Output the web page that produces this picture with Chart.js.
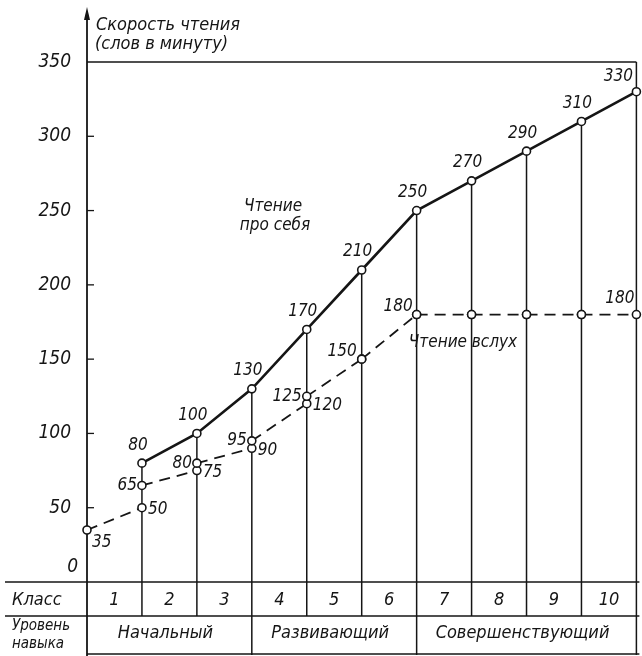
<!DOCTYPE html>
<html>
<head>
<meta charset="utf-8">
<script src="https://cdn.jsdelivr.net/npm/chart.js@4.4.1/dist/chart.umd.min.js"></script>
<style>
  html, body { margin: 0; padding: 0; background: #fff; }
  canvas { display: block; }
</style>
</head>
<body>
<canvas id="chart" width="642" height="656"></canvas>
<script>
(() => {
  // grade boundaries are x = 0..10, grade i spans x = i-1 .. i
  const grades = ['1', '2', '3', '4', '5', '6', '7', '8', '9', '10'];
  const silentValues = [80, 100, 130, 170, 210, 250, 270, 290, 310, 330]; // at end of each grade
  const aloudStart = [35, 65, 80, 95, 125, 150, 180, 180, 180, 180];     // at start of each grade
  const aloudEnd = [50, 75, 90, 120, 150, 180, 180, 180, 180, 180];       // at end of each grade
  const levels = ['Начальный', 'Развивающий', 'Совершенствующий'];
  const levelBounds = [0, 3, 6, 10];
  const yTitle = ['Скорость чтения', '(слов в минуту)'];
  const silentName = ['Чтение', 'про себя'];
  const aloudName = 'Чтение вслух';

  const INK = '#151515';
  const FAMILY = "'Liberation Sans Narrow', 'DejaVu Sans Condensed', sans-serif";
  const font = (size) => `italic ${size}px ${FAMILY}`;

  const silentData = silentValues.map((v, i) => ({ x: i + 1, y: v }));
  const aloudData = [];
  aloudStart.forEach((v, i) => {
    aloudData.push({ x: i, y: v }, { x: i + 1, y: aloudEnd[i] }, { x: i + 1, y: null });
  });

  const pointStyle = {
    pointRadius: 4,
    pointBackgroundColor: '#fff',
    pointBorderColor: INK,
    pointBorderWidth: 1.6,
    pointHoverRadius: 4,
    borderColor: INK,
    tension: 0,
    clip: false,
  };

  const overlay = {
    id: 'overlay',
    beforeDatasetsDraw(chart) {
      const { ctx, scales: { x, y } } = chart;
      const y0 = y.getPixelForValue(0);
      const rowB = y0 + 34;
      const bottom = 655;
      ctx.save();
      ctx.strokeStyle = INK;
      ctx.lineCap = 'butt';

      // grade verticals, from the silent-reading point down through the class row
      ctx.lineWidth = 1.5;
      silentValues.forEach((v, i) => {
        const px = x.getPixelForValue(i + 1);
        const long = levelBounds.includes(i + 1);
        ctx.beginPath();
        ctx.moveTo(px, i === 9 ? y.getPixelForValue(350) : y.getPixelForValue(v));
        ctx.lineTo(px, long ? bottom : rowB);
        ctx.stroke();
      });

      // y axis with arrow
      const ax = x.getPixelForValue(0);
      ctx.lineWidth = 1.8;
      ctx.beginPath();
      ctx.moveTo(ax, 14);
      ctx.lineTo(ax, bottom + 2);
      ctx.stroke();
      ctx.fillStyle = INK;
      ctx.beginPath();
      ctx.moveTo(ax, 7);
      ctx.lineTo(ax - 3, 20);
      ctx.lineTo(ax + 3, 20);
      ctx.closePath();
      ctx.fill();

      // top frame at 350
      ctx.lineWidth = 1.6;
      ctx.beginPath();
      ctx.moveTo(ax, y.getPixelForValue(350));
      ctx.lineTo(x.getPixelForValue(10), y.getPixelForValue(350));
      ctx.stroke();

      // small inner ticks
      ctx.lineWidth = 1.3;
      y.ticks.forEach((t) => {
        if (t.value === 0 || t.value === 350) return;
        const py = y.getPixelForValue(t.value);
        ctx.beginPath();
        ctx.moveTo(ax, py);
        ctx.lineTo(ax + 7, py);
        ctx.stroke();
      });

      // table rules
      const right = x.getPixelForValue(10) + 3;
      ctx.lineWidth = 1.6;
      [[5, y0], [5, rowB], [ax, bottom - 1]].forEach(([x1, py]) => {
        ctx.beginPath();
        ctx.moveTo(x1, py);
        ctx.lineTo(right, py);
        ctx.stroke();
      });
      ctx.restore();
    },
    afterDraw(chart) {
      const { ctx, scales: { x, y } } = chart;
      const y0 = y.getPixelForValue(0);
      const ax = x.getPixelForValue(0);
      const px = (i) => x.getPixelForValue(i);
      const py = (v) => y.getPixelForValue(v);
      ctx.save();
      ctx.fillStyle = INK;
      ctx.textBaseline = 'middle';

      const text = (s, tx, ty, align = 'center', size = 17) => {
        ctx.font = font(size);
        ctx.textAlign = align;
        ctx.fillText(s, tx, ty);
      };

      // axis title
      text(yTitle[0], ax + 9, 25, 'left', 18);
      text(yTitle[1], ax + 8, 44, 'left', 18);
      text('0', ax - 9, y0 - 15, 'right', 19);

      // silent reading labels, above each point
      silentValues.forEach((v, i) => {
        if (i === 9) text(String(v), px(10) - 18, py(v) - 15);
        else text(String(v), px(i + 1) - 4, py(v) - 18);
      });

      // aloud reading labels
      text(String(aloudStart[0]), px(0) + 5, py(aloudStart[0]) + 13, 'left');
      for (let i = 0; i < 4; i++) text(String(aloudEnd[i]), px(i + 1) + 6, py(aloudEnd[i]) + 2, 'left');
      for (let i = 1; i < 5; i++) text(String(aloudStart[i]), px(i) - 5, py(aloudStart[i]), 'right');
      text(String(aloudEnd[4]), px(5) - 5, py(aloudEnd[4]) - 8, 'right');
      text(String(aloudEnd[5]), px(6) - 4, py(aloudEnd[5]) - 8, 'right');
      text(String(aloudEnd[9]), px(10) - 2, py(aloudEnd[9]) - 16, 'right');

      // series names
      text(silentName[0], 273, 207, 'center', 17);
      text(silentName[1], 275, 226, 'center', 17);
      text(aloudName, 463, 343, 'center', 17);

      // table text
      const rowMid = y0 + 18;
      text('Класс', 12, rowMid, 'left', 18);
      grades.forEach((g, i) => text(g, (px(i) + px(i + 1)) / 2, rowMid, 'center', 18));
      text('Уровень', 12, y0 + 44, 'left', 15);
      text('навыка', 12, y0 + 62, 'left', 15);
      levels.forEach((l, i) => text(l, (px(levelBounds[i]) + px(levelBounds[i + 1])) / 2 - 4, y0 + 51, 'center', 18));
      ctx.restore();
    },
  };

  new Chart(document.getElementById('chart'), {
    type: 'line',
    data: {
      datasets: [
        { label: 'Чтение про себя', data: silentData, borderWidth: 2.6, ...pointStyle },
        { label: 'Чтение вслух', data: aloudData, borderWidth: 1.8, borderDash: [11, 7], spanGaps: false, ...pointStyle },
      ],
    },
    plugins: [overlay],
    options: {
      responsive: false,
      animation: false,
      layout: { padding: { top: 62, right: 5, bottom: 74, left: 0 } },
      plugins: { legend: { display: false }, tooltip: { enabled: false } },
      scales: {
        x: { type: 'linear', min: 0, max: 10, display: false },
        y: {
          min: 0,
          max: 350,
          afterFit: (s) => { s.width = 87; },
          grid: { display: false },
          border: { display: false },
          ticks: {
            stepSize: 50,
            padding: 8,
            color: INK,
            font: { family: FAMILY, size: 19, style: 'italic' },
            callback: (v) => (v === 0 ? '' : v),
          },
        },
      },
    },
  });
})();
</script>
</body>
</html>
